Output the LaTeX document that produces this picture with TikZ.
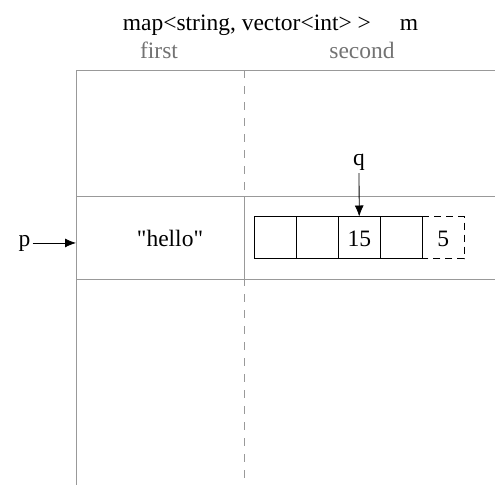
\documentclass[tikz,border=0pt]{standalone}
\usepackage{fontspec}
\setmainfont{Liberation Serif}[Ligatures=TeXOff]
\usetikzlibrary{positioning,arrows.meta}

\begin{document}
\begin{tikzpicture}[x=1pt,y=-1pt,>={Latex[length=11pt,width=9pt]}]
        \tikzstyle{every node}=[font=\fontsize{23.5}{28}\selectfont,inner sep=1pt]
        \tikzstyle{frame}=[draw=black!40,line width=1pt]
        \tikzstyle{half}=[text=black!55,anchor=base]
        \tikzstyle{cell}=[draw,line width=0.8pt,minimum size=42pt,inner sep=0pt,outer sep=0pt]
        \tikzstyle{gap}=[dash pattern=on 8pt off 8pt]
        \useasboundingbox (0,0) rectangle (495,485);
        \node[anchor=base] (title) at (270.5,30) {map<string, vector<int> >\hspace{29pt}m};
        \node[half] (first) at (159,58) {first};
        \node[half] (second) at (362,58) {second};
        % table
        \draw[frame] (495,70) -- (76,70) -- (76,485);
        \draw[frame,gap] (244,70) -- (244,482);
        \node[frame,minimum width=168pt,minimum height=83pt,inner sep=0pt,outer sep=0pt] (hello) at (160,237.5) {};
        \node[anchor=base] at (170,246) {"hello"};
        \draw[frame] (hello.north east) -- (495,196) (hello.south east) -- (495,279);
        % vector
        \foreach \i in {1,...,4}
            \node[cell] (c\i) at ({254.3+42*(\i-0.5)},237.5) {};
        \node[anchor=base] at (c3 |- 0,246) {15};
        \node[cell,draw=none] (c5) at ([xshift=42pt]c4) {};
        \node[anchor=base] at (c5 |- 0,246) {5};
        \draw[line width=0.8pt,dash pattern=on 7pt off 5pt] (c5.north west) -- (c5.north east) -- (c5.south east) -- (c5.south west);
        % pointers
        \node[anchor=base,inner sep=2pt] (p) at (24.5,246) {p};
        \draw[->,line width=0.8pt] (p) -- (p -| hello.west);
        \node[anchor=base,inner sep=3pt] (q) at (359,165) {q};
        \draw[->,line width=0.8pt] (q) -- (c3);
    \end{tikzpicture}
\end{document}
